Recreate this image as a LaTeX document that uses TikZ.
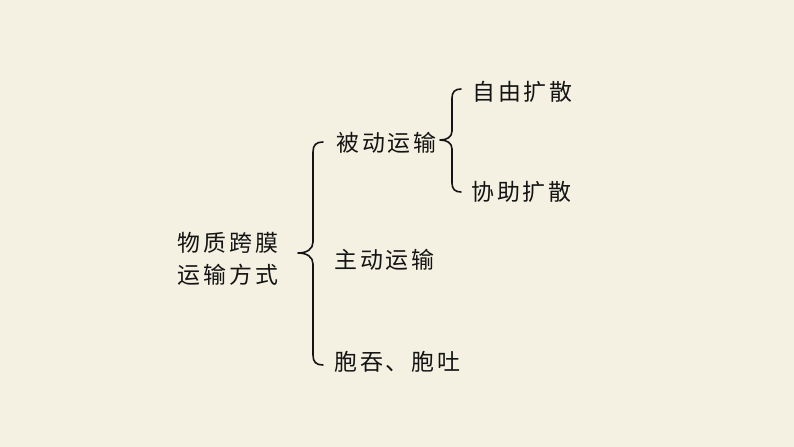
\documentclass[tikz,border=0pt]{standalone}
\usepackage{fontspec}
\newfontfamily\cjk[LetterSpace=13]{Noto Sans CJK SC}
\definecolor{bgc}{RGB}{244,241,226}
\definecolor{ink}{RGB}{20,20,20}
\begin{document}
\begin{tikzpicture}[x=1bp,y=-1bp,
  lbl/.style={inner sep=0pt,font=\cjk\fontsize{23}{32}\selectfont,text=ink,anchor=west},
  brace/.style={draw=ink,line width=1.6bp,line cap=round,line join=round}]
\fill[bgc] (0,0) rectangle (794,447);
\useasboundingbox (0,0) rectangle (794,447);
\node[lbl,align=left,anchor=center] (root) at (228,259) {物质跨膜\\运输方式};
\node[lbl] (passive) at (336,143) {被动运输};
\node[lbl] (active) at (334,260) {主动运输};
\node[lbl] (endo) at (334,362) {胞吞、胞吐};
\node[lbl] (free) at (472,92) {自由扩散};
\node[lbl] (facil) at (471,192) {协助扩散};
% big brace
\coordinate (bt) at (323,142);
\coordinate (bm) at (298,253);
\coordinate (bb) at (323,365);
\draw[brace] (bt) .. controls (316,142) and (313,145) .. (313,152) -- (313,242)
  .. controls (313,249) and (307,253) .. (bm)
  .. controls (307,253) and (313,257) .. (313,264) -- (313,355)
  .. controls (313,362) and (316,365) .. (bb);
% small brace
\coordinate (st) at (461,89);
\coordinate (sm) at (440,140);
\coordinate (sb) at (461,192);
\draw[brace] (st) .. controls (455,89) and (452,92) .. (452,98) -- (452,131)
  .. controls (452,137) and (447,140) .. (sm)
  .. controls (447,140) and (452,143) .. (452,149) -- (452,183)
  .. controls (452,189) and (455,192) .. (sb);
\end{tikzpicture}
\end{document}
